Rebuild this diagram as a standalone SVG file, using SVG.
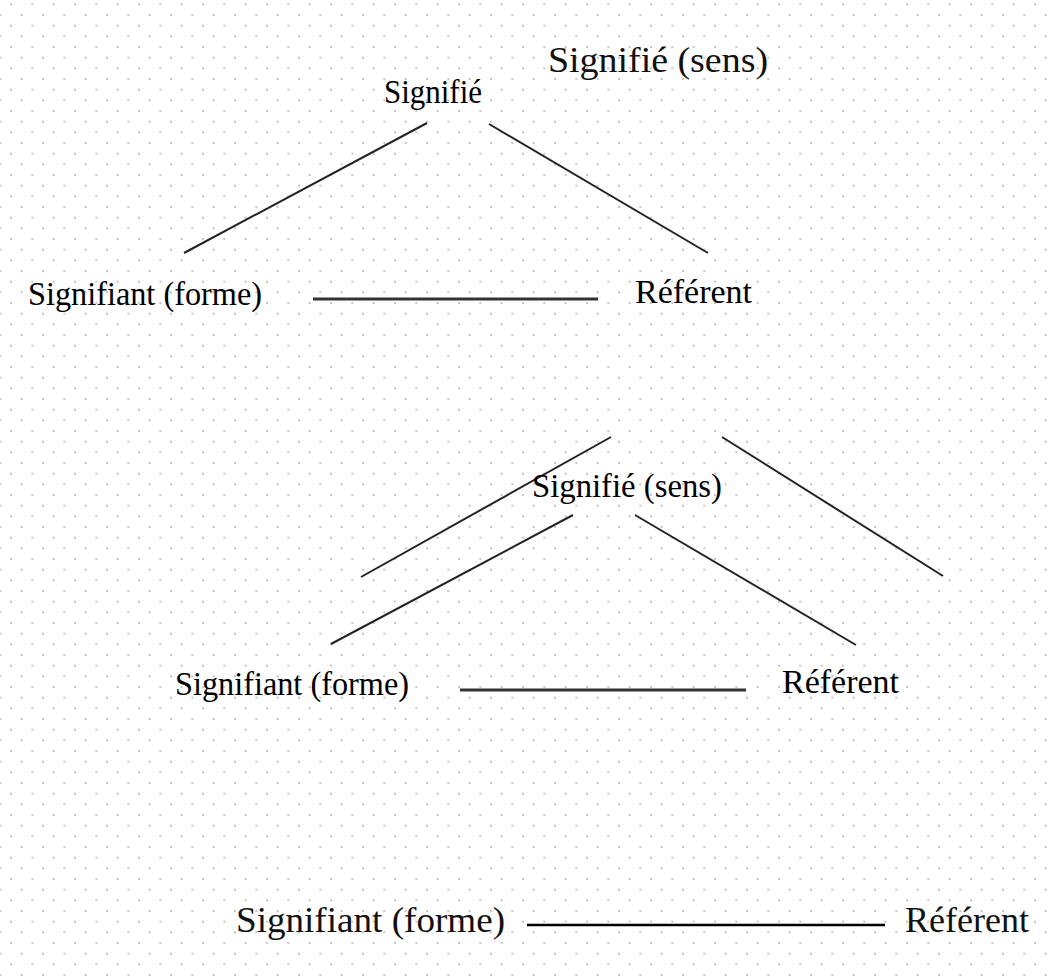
<svg xmlns="http://www.w3.org/2000/svg" width="1049" height="976" viewBox="0 0 1049 976">
  <style>
    .t { font-family: "Liberation Serif", "Times New Roman", serif; font-size: 33px; fill: #000; }
    .w { font-family: "Liberation Serif", "Times New Roman", serif; font-size: 36px; fill: #111; }
    .ln { stroke: #222; stroke-width: 2; fill: none; }
    .hz { stroke: #333; stroke-width: 3; fill: none; }
  </style>
  <defs>
    <pattern id="dots" patternUnits="userSpaceOnUse" x="-0.67" y="3.33" width="21.333" height="21.333">
      <rect x="0" y="10.667" width="2" height="2" fill="#c4c4c4"/>
      <rect x="10.667" y="0" width="2" height="2" fill="#c4c4c4"/>
    </pattern>
  </defs>
  <rect width="1049" height="976" fill="#fff"/>
  <rect width="1049" height="976" fill="url(#dots)"/>

  <g id="connectors">
    <line class="ln" x1="184" y1="253" x2="427" y2="123"/>
    <line class="ln" x1="489" y1="124" x2="708" y2="253"/>
    <line class="hz" x1="313" y1="299" x2="598" y2="299"/>
    <line class="ln" x1="361" y1="577" x2="611" y2="437"/>
    <line class="ln" x1="722" y1="437" x2="943" y2="576"/>
    <line class="ln" x1="331" y1="644" x2="573" y2="515"/>
    <line class="ln" x1="635" y1="515" x2="856" y2="645"/>
    <line class="hz" x1="460" y1="690" x2="746" y2="690"/>
    <line class="ln" x1="527" y1="925" x2="885" y2="925" style="stroke:#000;stroke-width:2.5"/>
  </g>

  <g id="title-signifie-sens">
    <text class="w" x="548" y="72" textLength="220" lengthAdjust="spacingAndGlyphs">Signifié  (sens)</text>
  </g>
  <g id="top-signifie">
    <text class="t" x="384" y="103" textLength="98" lengthAdjust="spacingAndGlyphs">Signifié</text>
  </g>
  <g id="top-signifiant">
    <text class="t" x="28" y="305" textLength="234" lengthAdjust="spacingAndGlyphs">Signifiant (forme)</text>
  </g>
  <g id="top-referent">
    <text class="t" x="635" y="303" textLength="117" lengthAdjust="spacingAndGlyphs">Référent</text>
  </g>
  <g id="mid-signifie">
    <text class="t" x="532" y="497" textLength="190" lengthAdjust="spacingAndGlyphs">Signifié (sens)</text>
  </g>
  <g id="mid-signifiant">
    <text class="t" x="175" y="695" textLength="234" lengthAdjust="spacingAndGlyphs">Signifiant (forme)</text>
  </g>
  <g id="mid-referent">
    <text class="t" x="782" y="693" textLength="117" lengthAdjust="spacingAndGlyphs">Référent</text>
  </g>
  <g id="bottom-signifiant">
    <text class="w" x="236" y="932" textLength="269" lengthAdjust="spacingAndGlyphs">Signifiant  (forme)</text>
  </g>
  <g id="bottom-referent">
    <text class="w" x="905" y="932" textLength="124" lengthAdjust="spacingAndGlyphs">Référent</text>
  </g>
</svg>
